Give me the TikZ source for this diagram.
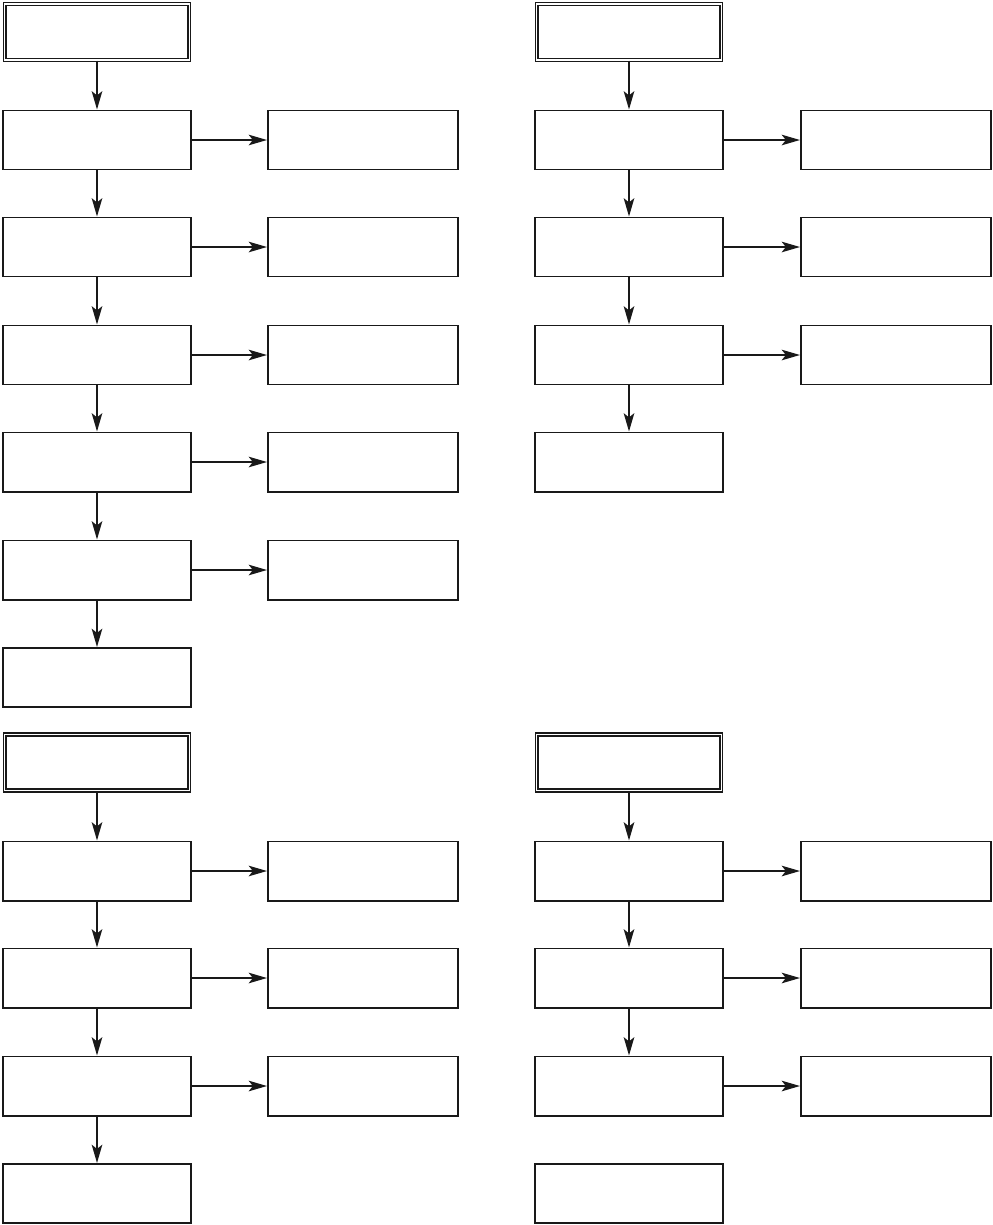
\documentclass[tikz,border=0pt]{standalone}
\usepackage{tikz}
\usetikzlibrary{arrows.meta}

\begin{document}
\begin{tikzpicture}[
  x=0.025cm, y=-0.025cm,
  stepbox/.style={rectangle, draw=black!90, line width=1.4pt,
    minimum width=4.7cm, minimum height=1.475cm, inner sep=0pt},
  sidebox/.style={stepbox, minimum width=4.75cm},
  headbox/.style={stepbox, double, line width=0.8pt, double distance=1.3pt,
    minimum width=4.62cm, minimum height=1.40cm},
  arrow/.style={-{Stealth[length=13pt, width=7.5pt, inset=3pt]}, line width=1.4pt, black!90},
]
\useasboundingbox (0,0) rectangle (993,1225);

% === top left ===
\node[headbox] (a0) at (97, 32) {};
\node[stepbox] (a1) at (97, 140) {};
\node[stepbox] (a2) at (97, 247) {};
\node[stepbox] (a3) at (97, 355) {};
\node[stepbox] (a4) at (97, 462) {};
\node[stepbox] (a5) at (97, 570) {};
\node[stepbox] (a6) at (97, 677.5) {};
\node[sidebox] (a1s) at (363, 140) {};
\node[sidebox] (a2s) at (363, 247) {};
\node[sidebox] (a3s) at (363, 355) {};
\node[sidebox] (a4s) at (363, 462) {};
\node[sidebox] (a5s) at (363, 570) {};

\draw[arrow] (a0) -- (a1);
\draw[arrow] (a1) -- (a2);
\draw[arrow] (a2) -- (a3);
\draw[arrow] (a3) -- (a4);
\draw[arrow] (a4) -- (a5);
\draw[arrow] (a5) -- (a6);
\draw[arrow] (a1) -- (a1s);
\draw[arrow] (a2) -- (a2s);
\draw[arrow] (a3) -- (a3s);
\draw[arrow] (a4) -- (a4s);
\draw[arrow] (a5) -- (a5s);

% === top right ===
\node[headbox] (b0) at (629, 32) {};
\node[stepbox] (b1) at (629, 140) {};
\node[stepbox] (b2) at (629, 247) {};
\node[stepbox] (b3) at (629, 355) {};
\node[stepbox] (b4) at (629, 462) {};
\node[sidebox] (b1s) at (896, 140) {};
\node[sidebox] (b2s) at (896, 247) {};
\node[sidebox] (b3s) at (896, 355) {};

\draw[arrow] (b0) -- (b1);
\draw[arrow] (b1) -- (b2);
\draw[arrow] (b2) -- (b3);
\draw[arrow] (b3) -- (b4);
\draw[arrow] (b1) -- (b1s);
\draw[arrow] (b2) -- (b2s);
\draw[arrow] (b3) -- (b3s);

% === bottom left ===
\node[headbox] (c0) at (97, 762.5) {};
\node[stepbox] (c1) at (97, 871) {};
\node[stepbox] (c2) at (97, 978) {};
\node[stepbox] (c3) at (97, 1086) {};
\node[stepbox] (c4) at (97, 1193.5) {};
\node[sidebox] (c1s) at (363, 871) {};
\node[sidebox] (c2s) at (363, 978) {};
\node[sidebox] (c3s) at (363, 1086) {};

\draw[arrow] (c0) -- (c1);
\draw[arrow] (c1) -- (c2);
\draw[arrow] (c2) -- (c3);
\draw[arrow] (c3) -- (c4);
\draw[arrow] (c1) -- (c1s);
\draw[arrow] (c2) -- (c2s);
\draw[arrow] (c3) -- (c3s);

% === bottom right ===
\node[headbox] (d0) at (629, 762.5) {};
\node[stepbox] (d1) at (629, 871) {};
\node[stepbox] (d2) at (629, 978) {};
\node[stepbox] (d3) at (629, 1086) {};
\node[stepbox] (d4) at (629, 1193.5) {};
\node[sidebox] (d1s) at (896, 871) {};
\node[sidebox] (d2s) at (896, 978) {};
\node[sidebox] (d3s) at (896, 1086) {};

\draw[arrow] (d0) -- (d1);
\draw[arrow] (d1) -- (d2);
\draw[arrow] (d2) -- (d3);
\draw[arrow] (d1) -- (d1s);
\draw[arrow] (d2) -- (d2s);
\draw[arrow] (d3) -- (d3s);
\end{tikzpicture}
\end{document}
